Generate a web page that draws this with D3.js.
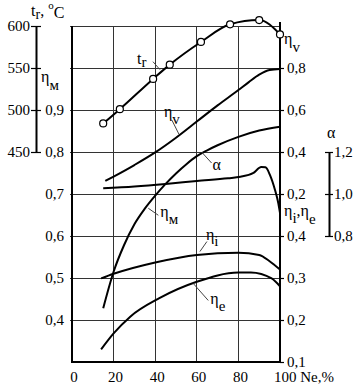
<!DOCTYPE html>
<html>
<head>
<meta charset="utf-8">
<script src="https://cdn.jsdelivr.net/npm/d3@7"></script>
<style>
  body { margin: 0; background: #fff; }
  .tick text { font-size: 15px; }
</style>
</head>
<body>
<script>
// exhaust temperature tr, °C (with markers)
const neTr = [15, 23, 39, 47, 62, 76, 90, 100];
const tr = [484, 501, 537, 554, 581, 602, 607, 590];
// volumetric efficiency ηv
const neV = [16, 20, 30, 40, 50, 60, 70, 80, 85, 90, 95, 100];
const etaV = [0.262, 0.283, 0.338, 0.398, 0.468, 0.545, 0.622, 0.695, 0.733, 0.768, 0.79, 0.795];
// excess air α
const neA = [15, 30, 45, 60, 75, 81, 87, 91, 93, 95.2, 97.6, 99.2, 100];
const alpha = [1.027, 1.036, 1.048, 1.062, 1.075, 1.082, 1.099, 1.128, 1.127, 1.09, 1.019, 0.956, 0.91];
// mechanical efficiency ηм
const neM = [15, 20, 25, 30, 35, 40, 45, 50, 55, 60, 65, 70, 80, 90, 100];
const etaM = [0.428, 0.515, 0.578, 0.628, 0.665, 0.696, 0.724, 0.749, 0.771, 0.79, 0.804, 0.816, 0.836, 0.851, 0.86];
// indicated / effective efficiency
const neI = [14, 20, 40, 60, 80, 90, 95, 100];
const etaI = [0.299, 0.31, 0.337, 0.355, 0.36, 0.355, 0.34, 0.32];
const neE = [14, 20, 28, 42, 60, 80, 86, 96, 100];
const etaE = [0.13, 0.168, 0.208, 0.252, 0.291, 0.313, 0.313, 0.299, 0.28];

// tick labels
const xTicks = [0, 20, 40, 60, 80];
const trTicks = [450, 500, 550, 600];
const mTicks = [0.4, 0.5, 0.6, 0.7, 0.8, 0.9];
const vTicks = [0.2, 0.4, 0.6, 0.8];
const ieTicks = [0.1, 0.2, 0.3, 0.4];
const aTicks = [0.8, 1.0, 1.2];
const gridM = [0.4, 0.5, 0.6, 0.7, 0.8, 0.9, 1.0, 1.1];

const width = 363, height = 389;
const FONT = '"Liberation Serif", "DejaVu Serif", serif';
const comma = d => d3.format(".1f")(d).replace(".", ",");

const x = d3.scaleLinear().domain([0, 100]).range([72, 280]);
const yM = d3.scaleLinear().domain([0.3, 1.1]).range([362, 26]);
const yTr = d3.scaleLinear().domain([450, 600]).range([152, 26]);
const yV = d3.scaleLinear().domain([0.2, 1.0]).range([194, 26]);
const yA = d3.scaleLinear().domain([0.8, 1.2]).range([236, 152]);
const yIE = d3.scaleLinear().domain([0.1, 0.4]).range([362, 236]);

const svg = d3.select("body").append("svg")
  .attr("width", width)
  .attr("height", height)
  .attr("font-family", FONT);

// grid
const grid = svg.append("g").attr("stroke", "#333").attr("stroke-width", 1).attr("shape-rendering", "crispEdges");
grid.selectAll("line.h").data(gridM).join("line")
  .attr("x1", x(0) - 2).attr("x2", x(100))
  .attr("y1", d => yM(d)).attr("y2", d => yM(d));
grid.selectAll("line.v").data([20, 40, 60, 80]).join("line")
  .attr("x1", d => x(d)).attr("x2", d => x(d))
  .attr("y1", yM(1.1)).attr("y2", yM(0.3));

// frame axes
const frame = svg.append("g").attr("stroke", "#000").attr("stroke-width", 2);
frame.append("line").attr("x1", x(0)).attr("x2", x(0)).attr("y1", yM(1.1)).attr("y2", yM(0.3) + 1);
frame.append("line").attr("x1", x(0)).attr("x2", x(100) + 1).attr("y1", yM(0.3)).attr("y2", yM(0.3));
frame.append("line").attr("x1", x(100)).attr("x2", x(100)).attr("y1", yM(1.1) - 4).attr("y2", yM(0.3));

function styleAxis(g) {
  g.select(".domain").attr("stroke-width", 2);
  g.selectAll(".tick line").attr("stroke-width", 1.2);
}

// tr axis
svg.append("g")
  .attr("transform", "translate(36,0)")
  .call(d3.axisLeft(yTr).tickValues(trTicks).tickSize(5).tickPadding(1).tickSizeOuter(0))
  .call(styleAxis)
  .call(g => g.selectAll(".tick line").attr("x1", 5));

// ηм labels
svg.append("g")
  .attr("transform", `translate(${x(0)},0)`)
  .call(d3.axisLeft(yM).tickValues(mTicks).tickFormat(comma).tickSize(0).tickPadding(8))
  .call(g => g.select(".domain").remove());

// ηv axis
svg.append("g")
  .attr("transform", `translate(${x(100)},0)`)
  .call(d3.axisRight(yV).tickValues(vTicks).tickFormat(comma).tickSize(4).tickPadding(3))
  .call(styleAxis)
  .call(g => g.select(".domain").remove());

// ηi, ηe axis
svg.append("g")
  .attr("transform", `translate(${x(100)},0)`)
  .call(d3.axisRight(yIE).tickValues(ieTicks).tickFormat(comma).tickSize(4).tickPadding(3))
  .call(styleAxis)
  .call(g => g.select(".domain").remove());

// α axis
svg.append("g")
  .attr("transform", "translate(329,0)")
  .call(d3.axisRight(yA).tickValues(aTicks).tickFormat(comma).tickSize(4).tickPadding(1).tickSizeOuter(0))
  .call(styleAxis)
  .call(g => g.selectAll(".tick line").attr("x1", -4));

// bottom labels
svg.append("g")
  .attr("transform", `translate(1.5,${yM(0.3)})`)
  .call(d3.axisBottom(x).tickValues(xTicks).tickSize(0).tickPadding(9))
  .call(g => g.select(".domain").remove());
svg.append("text").attr("x", 274).attr("y", 382).style("font-size", "15px").text("100 Ne,%");

// curves
const curve = (ne, vals, y) => d3.line()
  .x(i => x(ne[i]))
  .y(i => y(vals[i]))
  .curve(d3.curveMonotoneX)(d3.range(ne.length));

const lines = svg.append("g").attr("fill", "none").attr("stroke", "#000").attr("stroke-width", 2);
lines.append("path").attr("d", curve(neTr, tr, yTr));
lines.append("path").attr("d", curve(neV, etaV, yV));
lines.append("path").attr("d", curve(neA, alpha, yA));
lines.append("path").attr("d", curve(neM, etaM, yM));
lines.append("path").attr("d", curve(neI, etaI, yIE));
lines.append("path").attr("d", curve(neE, etaE, yIE));

svg.append("g")
  .attr("fill", "#fff").attr("stroke", "#000").attr("stroke-width", 1.2)
  .selectAll("circle")
  .data(d3.range(neTr.length))
  .join("circle")
  .attr("cx", i => x(neTr[i]))
  .attr("cy", i => yTr(tr[i]))
  .attr("r", 3.5);

// labels with subscripts
function label(px, py, parts, size = 16) {
  const t = svg.append("text").attr("x", px).attr("y", py).style("font-size", size + "px");
  parts.forEach(p => {
    const s = t.append("tspan").text(p[0]);
    if (p[1]) s.attr("dy", p[1]);
    if (p[2]) s.style("font-size", p[2] + "px");
  });
  return t;
}

// curve annotations: anchor in data units, label and leader offsets in px
const notes = [
  { y: yTr, ne: 42.3, v: 548, dx: -23, dy: -6, ex: -7, ey: -8, parts: [["t"], ["r", 3, 15]] },
  { y: yV, ne: 51.4, v: 0.485, dx: -15, dy: -17, ex: -7, ey: -14, parts: [["η"], ["v", 7, 15]] },
  { y: yM, ne: 62.3, v: 0.8, dx: 11, dy: 18, ex: 10, ey: 11, parts: [["α"]] },
  { y: yM, ne: 36.7, v: 0.666, dx: 12, dy: 9, ex: 10, ey: 7, parts: [["η"], ["м", 7, 15]] },
  { y: yIE, ne: 61.5, v: 0.363, dx: 6, dy: -12, ex: 7, ey: -10, parts: [["η"], ["i", 6, 15]] },
  { y: yIE, ne: 58.3, v: 0.287, dx: 17, dy: 21, ex: 15, ey: 17, parts: [["η"], ["e", 7, 15]] }
];
notes.forEach(n => {
  const ax = x(n.ne), ay = n.y(n.v);
  svg.append("line")
    .attr("x1", ax).attr("y1", ay).attr("x2", ax + n.ex).attr("y2", ay + n.ey)
    .attr("stroke", "#444").attr("stroke-width", 1);
  label(ax + n.dx, ay + n.dy, n.parts);
});

// axis titles
label(31, 16, [["t"], ["r", 3, 14], [", ", -3], ["o", -7, 11], ["C", 9]]);
label(41, 82, [["η"], ["м", 8, 15]]);
label(284, 44, [["η"], ["v", 8, 15]]);
label(284, 216, [["η"], ["i", 7, 15], [",", -7], ["η"], ["e", 8, 15]]);
label(327, 138, [["α"]]);

svg.selectAll("text").style("font-family", FONT).attr("fill", "#000");
</script>
</body>
</html>
